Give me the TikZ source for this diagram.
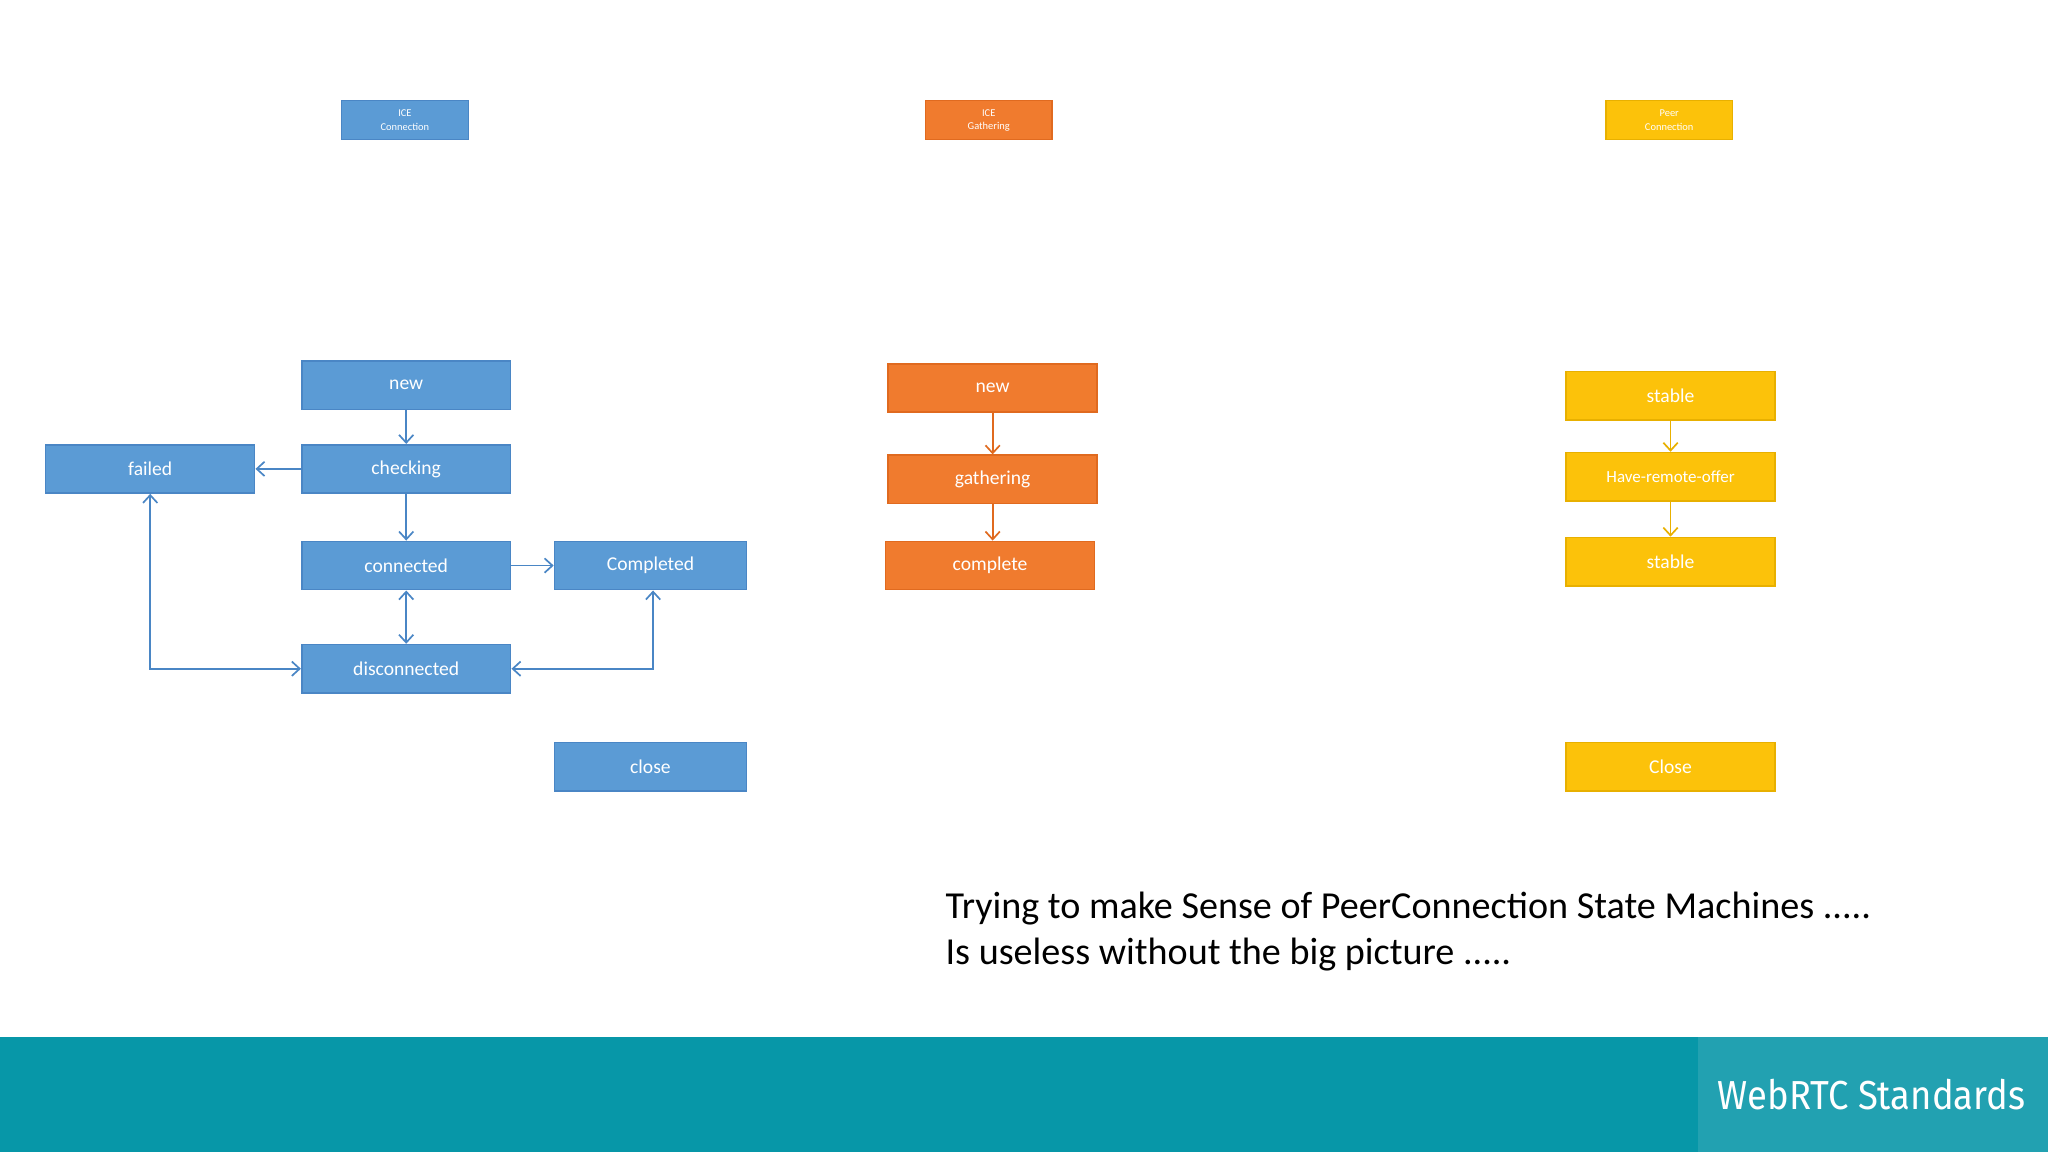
\documentclass[tikz,border=0pt]{standalone}
\usepackage{fontspec}
\setmainfont{Carlito}
\newfontfamily\bandfont{Fira Sans}
\usetikzlibrary{arrows,arrows.meta}
\definecolor{iceblue}{HTML}{5B9BD5}
\definecolor{iceblueline}{HTML}{4A86C5}
\definecolor{gathorange}{HTML}{F07B2E}
\definecolor{gathline}{HTML}{E06A1F}
\definecolor{peeryellow}{HTML}{FCC20A}
\definecolor{peerline}{HTML}{E8B000}
\definecolor{bandteal}{HTML}{0797A8}
\definecolor{bandlight}{HTML}{22A1B1}
\tikzset{
  statebox/.style = {rectangle, draw, line width=1.2pt, text=white,
    minimum width=160pt, minimum height=37pt, inner sep=0pt,
    font=\fontsize{15}{17}\selectfont},
  ice_s/.style = {statebox, fill=iceblue, draw=iceblueline},% ICE connection
  gat_s/.style = {statebox, fill=gathorange, draw=gathline},% ICE gathering
  peer_s/.style = {statebox, fill=peeryellow, draw=peerline},% peer connection
  headbox/.style = {rectangle, draw, line width=1pt, text=white, align=center,
    minimum width=97pt, minimum height=30pt, inner sep=0pt,
    font=\fontsize{8}{10}\selectfont}
}
\begin{document}
\begin{tikzpicture}[x=1pt,y=-1pt,>={Straight Barb[length=6pt,width=11pt]},line width=1.3pt]
  \useasboundingbox (0,0) rectangle (1568,882);
  % bottom band
  \fill[bandteal] (0,794) rectangle (1568,882);
  \fill[bandlight] (1300,794) rectangle (1568,882);
  \node[text=white, xscale=0.9, font=\bandfont\fontsize{31}{34}\selectfont] (band) at (1433,838) {WebRTC Standards};
  % headers
  \node[headbox, fill=iceblue, draw=iceblueline] (h_ice) at (310,92) {ICE\\Connection};
  \node[headbox, fill=gathorange, draw=gathline] (h_gat) at (757,92) {ICE\\Gathering};
  \node[headbox, fill=peeryellow, draw=peerline] (h_peer) at (1278,92) {Peer\\Connection};
  % ICE connection states
  \node[ice_s] (i_new) at (311,295) {new};
  \node[ice_s] (i_chk) at (311,359) {checking};
  \node[ice_s] (i_fail) at (115,359) {failed};
  \node[ice_s] (i_conn) at (311,433) {connected};
  \node[ice_s, minimum width=147pt] (i_comp) at (498,433) {Completed};
  \node[ice_s] (i_disc) at (311,512) {disconnected};
  \node[ice_s, minimum width=147pt] (i_close) at (498,587) {close};
  \begin{scope}[iceblueline]
    \draw[->] (i_new) -- (i_chk);
    \draw[->] (i_chk) -- (i_fail);
    \draw[->] (i_chk) -- (i_conn);
    \draw[->] (i_conn) -- (i_comp);
    \draw[<->] (i_conn) -- (i_disc);
    \draw[<->] (i_disc.west) -- (115,512) -- (i_fail.south);
    \draw[<->] (i_disc.east) -- (500,512) -- (i_comp.south -| 500,0);
  \end{scope}
  % ICE gathering states
  \node[gat_s] (g_new) at (760,297) {new};
  \node[gat_s] (g_gath) at (760,367) {gathering};
  \node[gat_s] (g_comp) at (758,433) {complete};
  \draw[->, gathline] (g_new) -- (g_gath);
  \draw[->, gathline] (g_gath.south) -- (g_gath.south |- g_comp.north);
  % peer connection states
  \node[peer_s] (p_st1) at (1279,303) {stable};
  \node[peer_s, font=\fontsize{13}{15}\selectfont] (p_hro) at (1279,365) {Have-remote-offer};
  \node[peer_s] (p_st2) at (1279,430) {stable};
  \node[peer_s] (p_close) at (1279,587) {Close};
  \draw[->, peerline] (p_st1) -- (p_hro);
  \draw[->, peerline] (p_hro) -- (p_st2);
  % caption
  \node[anchor=west, align=left, font=\fontsize{29.2}{35}\selectfont] (caption) at (720,713)
    {Trying to make Sense of PeerConnection State Machines .....\\Is useless without the big picture .....};
\end{tikzpicture}
\end{document}
